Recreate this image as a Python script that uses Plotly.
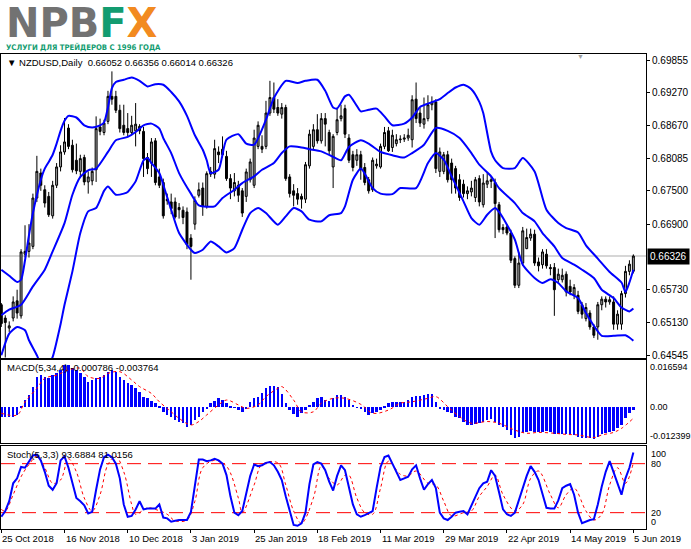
import plotly.graph_objects as go

# NZDUSD daily bars, 25 Oct 2018 .. 5 Jun 2019
opens = [
    0.6545, 0.6521, 0.6503, 0.6521, 0.6552, 0.6525, 0.6636, 0.6641, 0.6650, 0.6737,
    0.6782, 0.6752, 0.6740, 0.6705, 0.6760, 0.6793, 0.6820, 0.6863, 0.6832, 0.6805,
    0.6785, 0.6810, 0.6766, 0.6768, 0.6788, 0.6865, 0.6855, 0.6875, 0.6920, 0.6920,
    0.6895, 0.6868, 0.6862, 0.6855, 0.6858, 0.6866, 0.6857, 0.6810, 0.6800, 0.6840,
    0.6775, 0.6765, 0.6735, 0.6730, 0.6730, 0.6720, 0.6715, 0.6712, 0.6665, 0.6690,
    0.6742, 0.6755, 0.6722, 0.6780, 0.6780, 0.6820, 0.6815, 0.6812, 0.6772, 0.6750,
    0.6760, 0.6750, 0.6740, 0.6770, 0.6760, 0.6830, 0.6830, 0.6830, 0.6890, 0.6918,
    0.6900, 0.6888, 0.6900, 0.6775, 0.6750, 0.6745, 0.6740, 0.6735, 0.6795, 0.6830,
    0.6860, 0.6840, 0.6880, 0.6855, 0.6793, 0.6855, 0.6880, 0.6898, 0.6845, 0.6815,
    0.6805, 0.6815, 0.6792, 0.6770, 0.6752, 0.6795, 0.6793, 0.6830, 0.6858, 0.6828,
    0.6835, 0.6842, 0.6843, 0.6845, 0.6842, 0.6915, 0.6890, 0.6870, 0.6880, 0.6905,
    0.6910, 0.6785, 0.6785, 0.6815, 0.6800, 0.6790, 0.6770, 0.6762, 0.6745, 0.6748,
    0.6738, 0.6772, 0.6725, 0.6762, 0.6767, 0.6765, 0.6725, 0.6684, 0.6685, 0.6674,
    0.6628, 0.6580, 0.6620, 0.6646, 0.6665, 0.6672, 0.6622, 0.6617, 0.6636, 0.6612,
    0.6612, 0.6590, 0.6590, 0.6600, 0.6578, 0.6562, 0.6562, 0.6545, 0.6520, 0.6530,
    0.6505, 0.6505, 0.6545, 0.6555, 0.6550, 0.6550, 0.6510, 0.6510, 0.6565, 0.6605,
    0.66052,
]
highs = [
    0.6548, 0.6526, 0.6515, 0.6560, 0.6572, 0.6645, 0.6688, 0.6690, 0.6745, 0.6813,
    0.6790, 0.6760, 0.6748, 0.6768, 0.6800, 0.6832, 0.6881, 0.6870, 0.6842, 0.6835,
    0.6815, 0.6815, 0.6785, 0.6792, 0.6884, 0.6880, 0.6878, 0.6930, 0.6965, 0.6930,
    0.6905, 0.6905, 0.6890, 0.6885, 0.6908, 0.6870, 0.6865, 0.6818, 0.6845, 0.6845,
    0.6790, 0.6772, 0.6745, 0.6745, 0.6738, 0.6728, 0.6722, 0.6720, 0.6672, 0.6740,
    0.6765, 0.6765, 0.6785, 0.6793, 0.6842, 0.6830, 0.6848, 0.6822, 0.6780, 0.6782,
    0.6768, 0.6755, 0.6790, 0.6808, 0.6860, 0.6875, 0.6850, 0.6912, 0.6948, 0.6945,
    0.6915, 0.6908, 0.6905, 0.6780, 0.6762, 0.6755, 0.6745, 0.6802, 0.6860, 0.6870,
    0.6888, 0.6890, 0.6890, 0.6860, 0.6852, 0.6900, 0.6905, 0.6905, 0.6852, 0.6822,
    0.6825, 0.6822, 0.6800, 0.6775, 0.6810, 0.6808, 0.6835, 0.6865, 0.6865, 0.6860,
    0.6852, 0.6850, 0.6852, 0.6862, 0.6922, 0.6945, 0.6900, 0.6918, 0.6922, 0.6920,
    0.6915, 0.6828, 0.6820, 0.6822, 0.6808, 0.6795, 0.6780, 0.6770, 0.6758, 0.6768,
    0.6775, 0.6778, 0.6780, 0.6782, 0.6775, 0.6772, 0.6730, 0.6690, 0.6690, 0.6680,
    0.6632, 0.6640, 0.6685, 0.6682, 0.6682, 0.6680, 0.6630, 0.6645, 0.6645, 0.6618,
    0.6620, 0.6610, 0.6610, 0.6605, 0.6590, 0.6582, 0.6570, 0.6550, 0.6548, 0.6535,
    0.6510, 0.6550, 0.6560, 0.6560, 0.6560, 0.6560, 0.6535, 0.6570, 0.6615, 0.6625,
    0.66356,
]
lows = [
    0.6505, 0.6450, 0.6496, 0.6515, 0.6520, 0.6520, 0.6630, 0.6630, 0.6645, 0.6730,
    0.6750, 0.6720, 0.6703, 0.6700, 0.6755, 0.6785, 0.6815, 0.6825, 0.6783, 0.6780,
    0.6775, 0.6760, 0.6745, 0.6760, 0.6766, 0.6850, 0.6850, 0.6870, 0.6905, 0.6890,
    0.6855, 0.6850, 0.6848, 0.6850, 0.6830, 0.6852, 0.6775, 0.6780, 0.6775, 0.6760,
    0.6755, 0.6700, 0.6725, 0.6708, 0.6700, 0.6700, 0.6690, 0.6645, 0.6590, 0.6680,
    0.6738, 0.6705, 0.6718, 0.6775, 0.6772, 0.6800, 0.6810, 0.6768, 0.6735, 0.6740,
    0.6730, 0.6703, 0.6730, 0.6765, 0.6755, 0.6825, 0.6818, 0.6825, 0.6885, 0.6890,
    0.6885, 0.6880, 0.6768, 0.6738, 0.6722, 0.6725, 0.6718, 0.6728, 0.6790, 0.6825,
    0.6835, 0.6835, 0.6830, 0.6815, 0.6755, 0.6850, 0.6875, 0.6845, 0.6800, 0.6785,
    0.6795, 0.6770, 0.6760, 0.6745, 0.6748, 0.6790, 0.6790, 0.6825, 0.6820, 0.6820,
    0.6830, 0.6836, 0.6838, 0.6840, 0.6828, 0.6872, 0.6865, 0.6862, 0.6875, 0.6895,
    0.6782, 0.6775, 0.6780, 0.6765, 0.6745, 0.6745, 0.6732, 0.6738, 0.6735, 0.6740,
    0.6730, 0.6722, 0.6720, 0.6755, 0.6755, 0.6665, 0.6675, 0.6672, 0.6670, 0.6620,
    0.6575, 0.6575, 0.6615, 0.6645, 0.6660, 0.6615, 0.6605, 0.6610, 0.6610, 0.6598,
    0.6525, 0.6585, 0.6585, 0.6560, 0.6562, 0.6555, 0.6528, 0.6520, 0.6515, 0.6500,
    0.6485, 0.6482, 0.6535, 0.6540, 0.6545, 0.6500, 0.6500, 0.6500, 0.6558, 0.6598,
    0.66014,
]
closes = [
    0.6511, 0.6513, 0.6507, 0.6550, 0.6530, 0.6640, 0.6641, 0.6656, 0.6737, 0.6785,
    0.6760, 0.6728, 0.6707, 0.6760, 0.6793, 0.6820, 0.6838, 0.6830, 0.6788, 0.6786,
    0.6808, 0.6766, 0.6775, 0.6785, 0.6862, 0.6857, 0.6872, 0.6920, 0.6915, 0.6895,
    0.6862, 0.6855, 0.6855, 0.6868, 0.6870, 0.6858, 0.6808, 0.6790, 0.6838, 0.6765,
    0.6760, 0.6705, 0.6732, 0.6718, 0.6703, 0.6716, 0.6702, 0.6653, 0.6650, 0.6733,
    0.6752, 0.6722, 0.6781, 0.6785, 0.6826, 0.6815, 0.6825, 0.6772, 0.6755, 0.6765,
    0.6742, 0.6710, 0.6784, 0.6802, 0.6845, 0.6868, 0.6825, 0.6890, 0.6918, 0.6897,
    0.6890, 0.6900, 0.6772, 0.6745, 0.6742, 0.6735, 0.6735, 0.6797, 0.6852, 0.6860,
    0.6840, 0.6880, 0.6870, 0.6822, 0.6848, 0.6878, 0.6885, 0.6852, 0.6805, 0.6792,
    0.6815, 0.6788, 0.6765, 0.6750, 0.6805, 0.6798, 0.6830, 0.6855, 0.6822, 0.6850,
    0.6842, 0.6843, 0.6845, 0.6850, 0.6914, 0.6880, 0.6872, 0.6880, 0.6905, 0.6910,
    0.6790, 0.6820, 0.6815, 0.6770, 0.6770, 0.6755, 0.6738, 0.6745, 0.6750, 0.6755,
    0.6770, 0.6730, 0.6764, 0.6768, 0.6770, 0.6727, 0.6680, 0.6680, 0.6674, 0.6625,
    0.6580, 0.6620, 0.6678, 0.6666, 0.6672, 0.6620, 0.6615, 0.6640, 0.6615, 0.6610,
    0.6572, 0.6600, 0.6598, 0.6568, 0.6568, 0.6576, 0.6533, 0.6528, 0.6540, 0.6505,
    0.6490, 0.6545, 0.6555, 0.6550, 0.6554, 0.6510, 0.6528, 0.6565, 0.6605, 0.6618,
    0.66326,
]
bars = list(range(len(closes)))

date_ticks = [0, 16, 32, 48, 64, 80, 96, 112, 128, 144, 160]
date_labels = ["25 Oct 2018", "16 Nov 2018", "10 Dec 2018", "3 Jan 2019", "25 Jan 2019",
               "18 Feb 2019", "11 Mar 2019", "29 Mar 2019", "22 Apr 2019", "14 May 2019",
               "5 Jun 2019"]
price_ticks = [0.69855, 0.69270, 0.68670, 0.68085, 0.67500, 0.66900, 0.65730, 0.65130, 0.64545]

# Bollinger bands, read at the bars where the lines bend
bb_up_x = [0, 2, 4, 5, 6, 7, 8, 9, 10, 11, 12, 13, 14, 15, 16, 17, 19, 21, 23, 25, 26, 27, 28, 29,
           31, 33, 35, 37, 39, 41, 43, 45, 47, 49, 51, 52, 53, 55, 57, 60, 62, 64, 67, 69, 72, 75,
           77, 80, 82, 84, 85, 87, 88, 90, 91, 93, 95, 97, 99, 102, 104, 106, 108, 111, 113, 115,
           117, 119, 121, 122, 124, 125, 127, 130, 132, 135, 138, 141, 143, 146, 148, 151, 154,
           157, 158, 159, 160]
bb_up = [0.6608, 0.6597, 0.6586, 0.6590, 0.6625, 0.6670, 0.6710, 0.6742, 0.6770, 0.6790, 0.6802,
         0.6815, 0.6835, 0.6858, 0.6876, 0.6885, 0.6882, 0.6868, 0.6864, 0.6868, 0.6873, 0.6900,
         0.6935, 0.6946, 0.6950, 0.6954, 0.6948, 0.6938, 0.6942, 0.6941, 0.6928, 0.6911, 0.6885,
         0.6850, 0.6824, 0.6805, 0.6782, 0.6788, 0.6842, 0.6852, 0.6835, 0.6833, 0.6878, 0.6917,
         0.6948, 0.6944, 0.6948, 0.6950, 0.6930, 0.6900, 0.6898, 0.6920, 0.6923, 0.6903, 0.6893,
         0.6896, 0.6898, 0.6884, 0.6868, 0.6871, 0.6882, 0.6901, 0.6907, 0.6915, 0.6926, 0.6936,
         0.6941, 0.6933, 0.6910, 0.6890, 0.6820, 0.6805, 0.6791, 0.6791, 0.6809, 0.6785, 0.6716,
         0.6692, 0.6683, 0.6675, 0.6652, 0.6628, 0.6604, 0.6585, 0.6568, 0.6585, 0.6608]
bb_mid_x = [0, 2, 5, 8, 11, 13, 16, 18, 20, 22, 24, 27, 29, 32, 34, 36, 38, 40, 41, 43, 45, 48,
            50, 54, 56, 59, 61, 64, 66, 69, 71, 73, 76, 78, 81, 84, 86, 88, 91, 93, 96, 99, 102,
            104, 107, 110, 113, 116, 119, 121, 124, 126, 130, 132, 135, 137, 140, 142, 145, 147,
            150, 152, 155, 157, 159, 160]
bb_mid = [0.6526, 0.6536, 0.6545, 0.6578, 0.6608, 0.6641, 0.6692, 0.6743, 0.6775, 0.6787, 0.6790,
          0.6820, 0.6841, 0.6847, 0.6856, 0.6868, 0.6871, 0.6862, 0.6845, 0.6818, 0.6782, 0.6745,
          0.6724, 0.6722, 0.6737, 0.6752, 0.6764, 0.6776, 0.6788, 0.6800, 0.6818, 0.6830, 0.6828,
          0.6825, 0.6821, 0.6811, 0.6805, 0.6829, 0.6841, 0.6835, 0.6820, 0.6814, 0.6810, 0.6818,
          0.6833, 0.6863, 0.6858, 0.6845, 0.6818, 0.6797, 0.6776, 0.6755, 0.6728, 0.6710, 0.6695,
          0.6674, 0.6650, 0.6629, 0.6617, 0.6608, 0.6593, 0.6572, 0.6557, 0.6540, 0.6533, 0.6538]
bb_low_x = [0, 2, 4, 6, 7, 9, 10, 11, 12, 13, 15, 16, 18, 20, 22, 24, 26, 27, 29, 31, 32, 34, 36,
            37, 38, 40, 41, 43, 45, 48, 49, 51, 53, 55, 57, 59, 61, 63, 65, 67, 70, 72, 74, 76, 78,
            81, 83, 86, 87, 89, 91, 92, 94, 96, 99, 101, 105, 108, 110, 112, 114, 117, 119, 121,
            123, 125, 126, 128, 130, 132, 135, 137, 139, 141, 143, 146, 148, 151, 152, 155, 158,
            159, 160]
bb_low = [0.6454, 0.6493, 0.6505, 0.6499, 0.6481, 0.6454, 0.6438, 0.6430, 0.6438, 0.6451, 0.6510,
          0.6545, 0.6605, 0.6674, 0.6713, 0.6719, 0.6750, 0.6758, 0.6743, 0.6745, 0.6748, 0.6767,
          0.6805, 0.6809, 0.6800, 0.6782, 0.6761, 0.6716, 0.6674, 0.6644, 0.6638, 0.6644, 0.6659,
          0.6650, 0.6639, 0.6647, 0.6680, 0.6710, 0.6719, 0.6710, 0.6689, 0.6704, 0.6719, 0.6713,
          0.6698, 0.6695, 0.6706, 0.6710, 0.6722, 0.6770, 0.6790, 0.6781, 0.6755, 0.6745, 0.6744,
          0.6755, 0.6755, 0.6800, 0.6818, 0.6806, 0.6776, 0.6731, 0.6701, 0.6689, 0.6707, 0.6719,
          0.6712, 0.6689, 0.6662, 0.6617, 0.6593, 0.6584, 0.6591, 0.6584, 0.6569, 0.6557, 0.6530,
          0.6497, 0.6489, 0.6489, 0.6490, 0.6486, 0.6480]

# MACD(5,34,4) histogram, one value per bar, and its signal line
macd_hist = [
    -0.0032, -0.0032, -0.0032, -0.0032, -0.0026, 0.0006, 0.0026, 0.0044, 0.0073, 0.0108,
    0.0113, 0.0108, 0.0104, 0.0113, 0.0119, 0.0131, 0.0148, 0.0148, 0.0139, 0.0131,
    0.0119, 0.0108, 0.0090, 0.0096, 0.0102, 0.0108, 0.0113, 0.0125, 0.0131, 0.0125,
    0.0108, 0.0096, 0.0084, 0.0079, 0.0067, 0.0055, 0.0038, 0.0032, 0.0023, 0.0015,
    0.0003, -0.0015, -0.0026, -0.0032, -0.0044, -0.0049, -0.0055, -0.0067, -0.0061, -0.0044,
    -0.0032, -0.0015, -0.0005, 0.0015, 0.0023, 0.0032, 0.0026, 0.0015, 0.0003, -0.0001,
    -0.0009, -0.0015, -0.0005, 0.0020, 0.0032, 0.0038, 0.0049, 0.0067, 0.0076, 0.0076,
    0.0073, 0.0046, 0.0015, -0.0009, -0.0024, -0.0032, -0.0020, -0.0009, 0.0009, 0.0020,
    0.0032, 0.0038, 0.0026, 0.0023, 0.0032, 0.0044, 0.0044, 0.0038, 0.0026, 0.0009,
    -0.0001, -0.0003, -0.0015, -0.0026, -0.0020, -0.0015, -0.0009, 0.0003, 0.0015, 0.0020,
    0.0020, 0.0020, 0.0020, 0.0026, 0.0038, 0.0041, 0.0041, 0.0044, 0.0046, 0.0046,
    0.0020, -0.0003, -0.0009, -0.0015, -0.0020, -0.0032, -0.0038, -0.0049, -0.0061, -0.0061,
    -0.0058, -0.0055, -0.0049, -0.0044, -0.0040, -0.0049, -0.0061, -0.0067, -0.0079, -0.0096,
    -0.0105, -0.0102, -0.0090, -0.0084, -0.0082, -0.0084, -0.0087, -0.0084, -0.0082, -0.0087,
    -0.0094, -0.0094, -0.0094, -0.0094, -0.0094, -0.0096, -0.0102, -0.0105, -0.0108, -0.0108,
    -0.0110, -0.0102, -0.0094, -0.0090, -0.0084, -0.0082, -0.0073, -0.0061, -0.0038, -0.0020,
    -0.000786,
]
macd_sig_x = [0, 4, 6, 9, 11, 14, 17, 20, 22, 25, 27, 30, 33, 35, 38, 40, 43, 45, 48, 50, 52, 55,
              57, 60, 62, 65, 67, 70, 71, 74, 76, 79, 81, 84, 87, 91, 94, 98, 101, 104, 108, 110,
              113, 116, 119, 123, 126, 130, 133, 136, 140, 143, 146, 150, 152, 155, 157, 160]
macd_sig = [-0.0020, -0.0026, 0.0020, 0.0067, 0.0102, 0.0113, 0.0131, 0.0137, 0.0108, 0.0102,
            0.0119, 0.0125, 0.0096, 0.0073, 0.0049, 0.0020, -0.0015, -0.0038, -0.0061, -0.0049,
            -0.0026, 0.0009, 0.0026, 0.0009, -0.0003, 0.0009, 0.0038, 0.0067, 0.0073, 0.0026,
            -0.0015, -0.0015, 0.0015, 0.0032, 0.0032, 0.0011, -0.0020, -0.0009, 0.0015, 0.0020,
            0.0032, 0.0038, 0.0003, -0.0032, -0.0055, -0.0049, -0.0055, -0.0079, -0.0090, -0.0087,
            -0.0090, -0.0094, -0.0096, -0.0105, -0.0096, -0.0087, -0.0073, -0.003764]
macd_labels = [0.016594, 0.0, -0.012399]

# Stochastic(5,3,3)
stoch_main = [
    15, 22, 34, 56, 62, 76, 75, 82, 90, 91,
    84, 70, 53, 48, 56, 84, 89, 75, 58, 38,
    34, 29, 19, 21, 48, 73, 88, 91, 88, 80,
    62, 30, 15, 16, 24, 34, 24, 25, 25, 25,
    30, 14, 13, 9, 10, 11, 11, 11, 21, 55,
    85, 85, 83, 84, 86, 84, 80, 66, 40, 20,
    17, 22, 45, 65, 79, 77, 78, 81, 82, 78,
    70, 60, 40, 22, 5, 4, 7, 20, 55, 79,
    82, 80, 72, 58, 47, 65, 78, 72, 52, 30,
    18, 15, 17, 19, 22, 50, 76, 88, 90, 80,
    70, 60, 62, 64, 73, 78, 62, 48, 55, 60,
    50, 20, 13, 11, 15, 20, 21, 22, 18, 28,
    38, 50, 56, 58, 72, 65, 45, 24, 18, 16,
    20, 35, 48, 65, 77, 70, 60, 42, 26, 25,
    25, 35, 50, 53, 55, 42, 20, 7, 9, 11,
    12, 30, 52, 70, 83, 70, 55, 42, 62, 75,
    93.6884,
]
stoch_sig_x = [0, 1, 3, 5, 7, 9, 11, 13, 15, 17, 19, 21, 23, 25, 27, 29, 31, 33, 34, 37, 39, 42,
               44, 47, 49, 51, 54, 57, 60, 61, 64, 66, 70, 72, 74, 76, 79, 81, 83, 85, 87, 88, 90,
               92, 94, 96, 98, 101, 103, 105, 108, 110, 112, 114, 117, 119, 121, 123, 125, 127,
               130, 132, 134, 136, 139, 141, 143, 145, 148, 150, 152, 154, 156, 158, 160]
stoch_sig = [24, 22, 42, 64, 79, 89, 75, 56, 60, 86, 70, 38, 22, 42, 79, 89, 70, 30, 18, 26, 24,
             18, 10, 11, 34, 75, 84, 77, 38, 20, 54, 79, 81, 54, 22, 7, 38, 77, 62, 54, 66, 66,
             38, 20, 18, 50, 83, 67, 65, 71, 56, 54, 34, 16, 20, 22, 40, 52, 66, 42, 22, 30, 62,
             71, 42, 26, 42, 50, 22, 11, 18, 54, 75, 56, 81.0156]
stoch_levels = [80, 20]
stoch_labels = [100, 80, 20, 0]

BLUE = "#0000ff"
FONT = "Liberation Sans, Arial, sans-serif"

fig = go.Figure()

fig.add_trace(go.Candlestick(
    x=bars, open=opens, high=highs, low=lows, close=closes,
    increasing=dict(line=dict(color="black", width=1), fillcolor="#a4a4a4"),
    decreasing=dict(line=dict(color="black", width=1), fillcolor="black"),
    whiskerwidth=0, showlegend=False, hoverinfo="skip",
))
for bx, by in [(bb_up_x, bb_up), (bb_mid_x, bb_mid), (bb_low_x, bb_low)]:
    fig.add_trace(go.Scatter(x=bx, y=by, mode="lines", showlegend=False, hoverinfo="skip",
                             line=dict(color=BLUE, width=2, shape="spline", smoothing=0.6)))

fig.add_trace(go.Bar(x=bars, y=macd_hist, xaxis="x2", yaxis="y2", width=0.62,
                     marker=dict(color=BLUE, line=dict(width=0)), showlegend=False,
                     hoverinfo="skip"))
fig.add_trace(go.Scatter(x=macd_sig_x, y=macd_sig, xaxis="x2", yaxis="y2", mode="lines",
                         line=dict(color="red", width=1, dash="dot", shape="spline"),
                         showlegend=False, hoverinfo="skip"))

fig.add_trace(go.Scatter(x=stoch_sig_x, y=stoch_sig, xaxis="x3", yaxis="y3", mode="lines",
                         line=dict(color="red", width=1, dash="dot", shape="spline"),
                         showlegend=False, hoverinfo="skip"))
fig.add_trace(go.Scatter(x=bars, y=stoch_main, xaxis="x3", yaxis="y3", mode="lines",
                         line=dict(color=BLUE, width=2), showlegend=False, hoverinfo="skip"))

# current price line
fig.add_shape(type="line", xref="paper", x0=0, x1=1, yref="y", y0=closes[-1], y1=closes[-1],
              line=dict(color="#c8c8c8", width=1.5), layer="below")
for lv in stoch_levels:
    fig.add_shape(type="line", xref="paper", x0=0, x1=1, yref="y3", y0=lv, y1=lv,
                  line=dict(color="red", width=1, dash="14px,7px"), layer="below")

xrange = [-0.08, 163.2]
frame = dict(showline=True, mirror=True, linecolor="black", linewidth=1,
             showgrid=False, zeroline=False)
fig.update_layout(
    width=691, height=549,
    margin=dict(l=1, r=45, t=54, b=20),
    paper_bgcolor="white", plot_bgcolor="white",
    font=dict(family=FONT, size=10, color="black"),
    bargap=0,
    xaxis=dict(domain=[0, 1], anchor="y", range=xrange, showticklabels=False,
               rangeslider=dict(visible=False), **frame),
    xaxis2=dict(domain=[0, 1], anchor="y2", range=xrange, matches="x",
                showticklabels=False, **frame),
    xaxis3=dict(domain=[0, 1], anchor="y3", range=xrange, matches="x",
                showticklabels=False, tickvals=date_ticks, ticks="outside", ticklen=3,
                tickcolor="black", **frame),
    yaxis=dict(domain=[0.36, 1.0], range=[0.64491, 0.69963], side="right",
               tickvals=price_ticks, ticktext=["%.5f" % p for p in price_ticks],
               ticks="outside", ticklen=3, tickcolor="black",
               tickfont=dict(family=FONT, size=10, color="black"), **frame),
    yaxis2=dict(domain=[0.1811, 0.3558], range=[-0.012399, 0.016594], side="right",
                showticklabels=False, **frame),
    yaxis3=dict(domain=[0, 0.1747], range=[0, 101.6], side="right",
                showticklabels=False, **frame),
)

ann = []
# logo
logo = ("<b><span style='color:#727272'>NPB</span><span style='color:#139c70'>F</span>"
        "<span style='color:#f28a20'>X</span></b>")
ann.append(dict(text=logo, x=0.004, y=1.0655, xanchor="left", yanchor="middle",
                font=dict(family="DejaVu Sans", size=40, color="#727272")))
ann.append(dict(text="<b>УСЛУГИ ДЛЯ ТРЕЙДЕРОВ С 1996 ГОДА</b>", x=0.004, y=1.0145,
                xanchor="left", yanchor="middle",
                font=dict(family="Liberation Sans Narrow, DejaVu Sans Condensed", size=7.7,
                          color="#139c70")))
# panel captions
ann.append(dict(text="▼ NZDUSD,Daily  0.66052 0.66356 0.66014 0.66326", x=0.006, y=0.983,
                xanchor="left", yanchor="middle", font=dict(size=9.5)))
ann.append(dict(text="MACD(5,34,4) -0.000786 -0.003764", x=0.006, y=0.339,
                xanchor="left", yanchor="middle", font=dict(size=9.5)))
ann.append(dict(text="Stoch(5,3,3) 93.6884 81.0156", x=0.006, y=0.1558,
                xanchor="left", yanchor="middle", font=dict(size=9.5)))
ann.append(dict(text="▼", x=0.899, y=0.994, xanchor="center", yanchor="middle",
                font=dict(size=7, color="#a0a0a0")))
# current price box
ann.append(dict(text="%.5f" % closes[-1], x=1, xshift=1, y=closes[-1], yref="y",
                xanchor="left", yanchor="middle", bgcolor="black", borderpad=2,
                font=dict(size=10, color="white")))
# MACD scale
for v, anc in zip(macd_labels, ["top", "middle", "bottom"]):
    txt = "0.00" if v == 0 else "%.6f" % v
    ann.append(dict(text=txt, x=1, xshift=2, y=v, yref="y2", xanchor="left", yanchor=anc,
                    font=dict(size=9)))
# Stochastic scale
for v, anc in zip(stoch_labels, ["top", "middle", "middle", "bottom"]):
    ann.append(dict(text=str(v), x=1, xshift=3, y=v, yref="y3", xanchor="left", yanchor=anc,
                    font=dict(size=9)))
# dates
for t, lab in zip(date_ticks, date_labels):
    ann.append(dict(text=lab, x=t, xref="x3", y=-0.019, yref="paper", xanchor="left",
                    yanchor="middle", xshift=-1, font=dict(size=9.5)))

for a in ann:
    a.setdefault("xref", "paper")
    a.setdefault("yref", "paper")
    a["showarrow"] = False
fig.update_layout(annotations=ann)

fig.write_html("out.html", config={"displayModeBar": False},
               post_script="document.body.style.margin='0';")
